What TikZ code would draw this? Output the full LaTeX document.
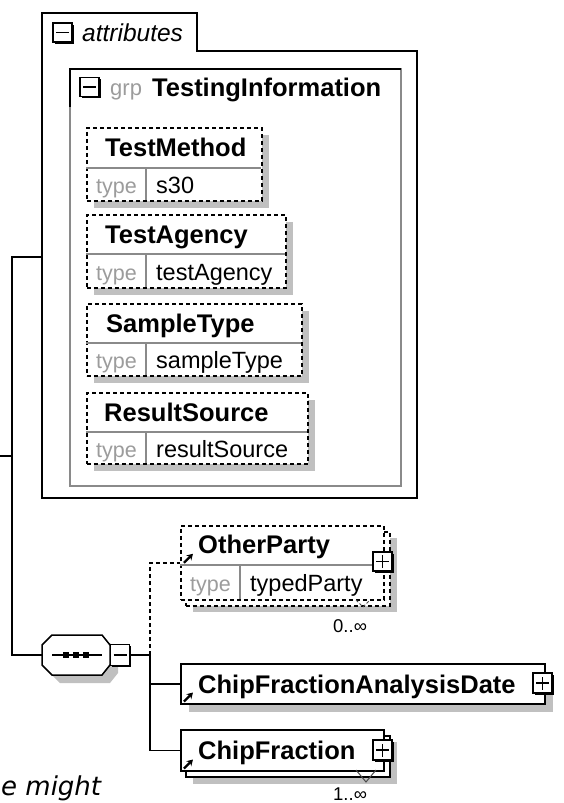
\documentclass[tikz,border=0pt]{standalone}
\usepackage{fontspec}
\setmainfont{Liberation Sans}
\newfontfamily\notefont{DejaVu Sans}
\usepackage{xcolor}
\definecolor{shadowgray}{HTML}{C0C0C0}
\definecolor{typegray}{HTML}{9C9C9C}
\definecolor{divgray}{HTML}{8A8A8A}
\usepackage{tikz}
\usetikzlibrary{arrows.meta, positioning, calc, shadows}

\begin{document}
\begin{tikzpicture}[x=1pt, y=-1pt, >=Stealth,
  conn/.style={line width=1.5pt},
  optline/.style={line width=1.5pt, dash pattern=on 4pt off 3pt},
  optbox/.style={draw, fill=white, line width=1.5pt, dash pattern=on 4pt off 3pt, inner sep=0pt, anchor=north west},
  reqbox/.style={draw, fill=white, line width=1.5pt, inner sep=0pt, anchor=north west},
  divline/.style={divgray, line width=1.2pt},
  elname/.style={anchor=base west, inner sep=0pt, font=\fontsize{25.5}{30}\selectfont\bfseries},
  typelbl/.style={anchor=base west, inner sep=0pt, text=typegray, font=\fontsize{21.5}{26}\selectfont},
  typeval/.style={anchor=base west, inner sep=0pt, font=\fontsize{23.5}{28}\selectfont},
  occurs/.style={anchor=base west, inner sep=0pt, font=\fontsize{18.5}{22}\selectfont},
  toggle/.style={draw, fill=white, line width=1.3pt, inner sep=0pt, minimum width=19pt, minimum height=19pt,
    drop shadow={shadow xshift=1.8pt, shadow yshift=-1.8pt, fill=black, opacity=1}},
  minussign/.style={toggle, path picture={
    \draw[line width=1.2pt] ([xshift=-6.5pt]path picture bounding box.center) -- ([xshift=6.5pt]path picture bounding box.center);}},
  plussign/.style={toggle, path picture={
    \draw[line width=1.2pt] ([xshift=-6.5pt]path picture bounding box.center) -- ([xshift=6.5pt]path picture bounding box.center);
    \draw[line width=1.2pt] ([yshift=-6.5pt]path picture bounding box.center) -- ([yshift=6.5pt]path picture bounding box.center);}},
  refarrow/.style={line width=2.2pt, -{Stealth[length=6pt, width=7pt]}},
  notch/.style={line width=1pt, black!70}
]
\useasboundingbox (0,0) rectangle (564,803);

% attributes container
\draw[line width=2pt] (42,13) -- (197,13) -- (197,51) -- (417,51) -- (417,498) -- (42,498) -- cycle;
\node[minussign] (attrtoggle) at (62.5,32.5) {};
\node[anchor=base west, inner sep=0pt, font=\fontsize{24.5}{29}\selectfont\itshape] (attrlabel) at (82,41) {attributes};
\coordinate (attrin) at (42,257);

% group TestingInformation
\draw[divgray, line width=1.5pt] (70,69) rectangle (401,486);
\draw[line width=1.5pt] (70,107) -- (70,69) -- (401,69);
\node[minussign] (grptoggle) at (89.5,87) {};
\node[typelbl, font=\fontsize{22}{26}\selectfont] (grplabel) at (110,95) {grp};
\node[elname] (grpname) at (152,96) {TestingInformation};

% TestMethod
\fill[shadowgray] (94,135) rectangle (269,208);
\node[optbox, minimum width=175, minimum height=73] (testmethod) at (86,127) {};
\draw[divline] (86,168) -- (261,168);
\draw[divline] (146,168) -- (146,200);
\node[elname] (testmethodname) at (105,156) {TestMethod};
\node[typelbl] (testmethodtype) at (96,193) {type};
\node[typeval] (testmethodval) at (156,193) {s30};

% TestAgency
\fill[shadowgray] (94,222) rectangle (293,295);
\node[optbox, minimum width=199, minimum height=73] (testagency) at (86,214) {};
\draw[divline] (86,254) -- (285,254);
\draw[divline] (146,254) -- (146,287);
\node[elname] (testagencyname) at (105,243) {TestAgency};
\node[typelbl] (testagencytype) at (96,280) {type};
\node[typeval] (testagencyval) at (156,280) {testAgency};

% SampleType
\fill[shadowgray] (94,311) rectangle (309,383);
\node[optbox, minimum width=215, minimum height=72] (sampletype) at (86,303) {};
\draw[divline] (86,343) -- (301,343);
\draw[divline] (146,343) -- (146,375);
\node[elname] (sampletypename) at (106,332) {SampleType};
\node[typelbl] (sampletypetype) at (96,368) {type};
\node[typeval] (sampletypeval) at (156,368) {sampleType};

% ResultSource
\fill[shadowgray] (94,400) rectangle (315,471);
\node[optbox, minimum width=221, minimum height=71] (resultsource) at (86,392) {};
\draw[divline] (86,432) -- (307,432);
\draw[divline] (146,432) -- (146,463);
\node[elname] (resultsourcename) at (104,421) {ResultSource};
\node[typelbl] (resultsourcetype) at (96,457) {type};
\node[typeval] (resultsourceval) at (156,457) {resultSource};

% trunk on the left
\coordinate (leftin) at (0,456);
\coordinate (trunktop) at (12,257);
\coordinate (trunkmid) at (12,456);
\coordinate (trunkbot) at (12,655);

% sequence compositor
\fill[shadowgray, shift={(8,8)}] (52,635) -- (102,635) -- (110,645) -- (110,665) -- (102,675) -- (52,675) -- (42,665) -- (42,645) -- cycle;
\draw[line width=1.5pt, fill=white] (52,635) -- (102,635) -- (110,645) -- (110,665) -- (102,675) -- (52,675) -- (42,665) -- (42,645) -- cycle;
\node[inner sep=0pt, minimum width=68, minimum height=40] (seq) at (76,655) {};
\draw[line width=1.5pt] (52,655) -- (102,655);
\fill (63,652) rectangle (69,658);
\fill (73,652) rectangle (79,658);
\fill (83,652) rectangle (89,658);
\node[minussign, minimum height=21pt] (seqtoggle) at (120,655) {};
\coordinate (seqjoin) at (150,655);

\draw[conn] (leftin) -- (trunkmid);
\draw[conn] (attrin) -- (trunktop) -- (trunkbot) -- (seq.west);
\draw[conn] (seqtoggle.east) -- (seqjoin);

% OtherParty
\fill[shadowgray] (193,538) rectangle (397,612);
\node[optbox, minimum width=204, minimum height=74] (otherpartycopy) at (185,531) {};
\node[optbox, minimum width=203, minimum height=74] (otherparty) at (180,525) {};
\draw[divline] (180,565) -- (383,565);
\draw[divline] (240,565) -- (240,599);
\node[elname] (otherpartyname) at (198,553) {OtherParty};
\node[typelbl] (otherpartytype) at (190,591) {type};
\node[typeval] (otherpartyval) at (250,591) {typedParty};
\node[plussign] (otherpartytoggle) at (382.5,561.5) {};
\draw[refarrow] ([xshift=4pt]otherparty.west) -- ++(9,-9);
\draw[notch, dash pattern=on 3pt off 2pt] (356,600) -- (363,607) -- (370,600);
\node[occurs] (otherpartyoccurs) at (333,632) {0..∞};

% ChipFractionAnalysisDate
\fill[shadowgray] (189,672) rectangle (553,712);
\node[reqbox, minimum width=364, minimum height=40] (cfad) at (180,663) {};
\node[elname] (cfadname) at (198,693) {ChipFractionAnalysisDate};
\node[plussign, minimum height=20pt] (cfadtoggle) at (542.5,683) {};
\draw[refarrow] ([shift={(4,-3)}]cfad.south west) -- ++(9,-9);

% ChipFraction
\fill[shadowgray] (193,742) rectangle (397,784);
\node[reqbox, minimum width=204, minimum height=41] (chipfractioncopy) at (185,735) {};
\node[reqbox, minimum width=203, minimum height=41] (chipfraction) at (180,729) {};
\node[elname] (chipfractionname) at (198,759) {ChipFraction};
\node[plussign, minimum height=20pt] (chipfractiontoggle) at (382.5,750) {};
\draw[refarrow] ([shift={(4,-3)}]chipfraction.south west) -- ++(9,-9);
\draw[notch] (356,770) -- (366,782) -- (376,770);
\node[occurs] (chipfractionoccurs) at (333,800) {1..∞};

% branches of the sequence
\draw[optline] (seqjoin) |- (otherparty.west);
\draw[conn] (seqjoin) |- (cfad.west);
\draw[conn] (seqjoin) |- (chipfraction.west);

% cut-off caption text
\node[anchor=base west, inner sep=0pt, font=\notefont\itshape\fontsize{26}{31}\selectfont] (note) at (1,795) {e might};
\end{tikzpicture}
\end{document}
